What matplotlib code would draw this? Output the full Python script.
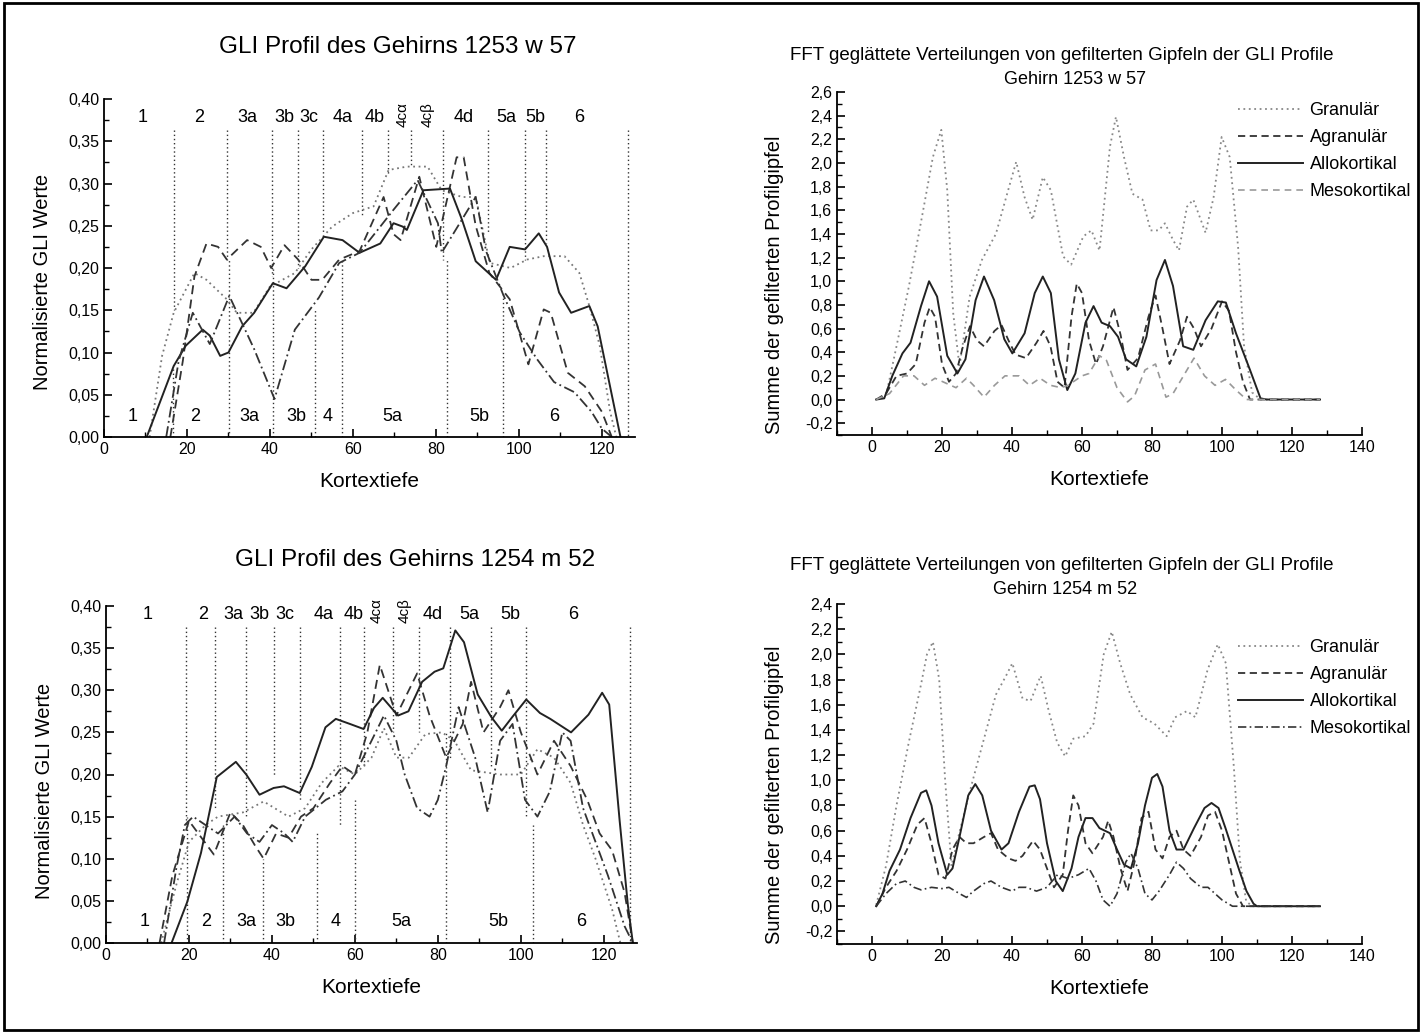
import numpy as np
import matplotlib.pyplot as plt
from matplotlib.ticker import MultipleLocator, FuncFormatter
from matplotlib.patches import Rectangle

plt.rcParams['font.family'] = ['Liberation Sans', 'DejaVu Sans']

# ---------------- data: GLI profile 1253 w 57 (top left) ----------------
tl_dot_x = [11, 14, 16.8, 21.8, 24.7, 29.6, 32, 36, 40, 46, 50, 55, 60, 65, 68.6, 73, 78, 81.4, 86.3, 89.6, 93, 98, 102, 106, 111, 114.6, 117, 119.5, 122, 123.5]
tl_dot_y = [0, 0.096, 0.147, 0.194, 0.186, 0.163, 0.147, 0.147, 0.178, 0.194, 0.222, 0.249, 0.265, 0.273, 0.316, 0.32, 0.32, 0.292, 0.284, 0.284, 0.206, 0.2, 0.21, 0.214, 0.214, 0.194, 0.155, 0.108, 0.03, 0]
tl_dash_x = [16, 19, 21.8, 24.7, 27.5, 29.6, 34.5, 37.8, 40.3, 43.5, 46.8, 50, 52.6, 56.7, 61.6, 67.4, 69.8, 71.5, 76, 80.1, 85, 86.7, 89.6, 92.9, 97.8, 102.3, 106, 107.7, 111.8, 115.9, 120, 122.4]
tl_dash_y = [0, 0.09, 0.19, 0.229, 0.225, 0.21, 0.233, 0.225, 0.2, 0.227, 0.21, 0.186, 0.186, 0.21, 0.22, 0.284, 0.24, 0.233, 0.308, 0.225, 0.331, 0.331, 0.25, 0.194, 0.163, 0.086, 0.151, 0.147, 0.076, 0.06, 0.03, 0]
tl_solid_x = [10.3, 16.8, 19.7, 23.8, 25.5, 28, 30, 33.3, 36.2, 40.7, 44, 48.5, 53, 57.5, 61.6, 66.6, 69.8, 72, 73, 77, 83.4, 86.3, 89.6, 94.5, 97.8, 101.5, 104.8, 106.8, 109.7, 112.6, 117, 119, 122.4, 124.5]
tl_solid_y = [0, 0.084, 0.108, 0.127, 0.12, 0.096, 0.1, 0.131, 0.147, 0.182, 0.176, 0.202, 0.237, 0.233, 0.218, 0.229, 0.253, 0.249, 0.245, 0.292, 0.294, 0.257, 0.208, 0.186, 0.225, 0.222, 0.241, 0.225, 0.171, 0.147, 0.155, 0.131, 0.05, 0]
tl_dd_x = [15, 18, 21.4, 25.5, 30.2, 36.2, 41.1, 46, 51.8, 56.7, 61.6, 66.6, 69.8, 75.6, 80.5, 81.4, 89.6, 92.1, 96.1, 100.2, 104.4, 108.5, 113.4, 117.5, 120, 122.4]
tl_dd_y = [0, 0.09, 0.147, 0.11, 0.167, 0.104, 0.045, 0.127, 0.165, 0.206, 0.218, 0.249, 0.269, 0.304, 0.253, 0.218, 0.284, 0.22, 0.17, 0.124, 0.092, 0.065, 0.053, 0.03, 0.01, 0]

tl_top_labels = ['1', '2', '3a', '3b', '3c', '4a', '4b', '4cα', '4cβ', '4d', '5a', '5b', '6']
tl_top_label_x = [9.2, 23, 34.5, 43.5, 49.3, 57.5, 65.3, 71.9, 78, 86.7, 97, 104, 114.6]
tl_top_bounds = [16.8, 29.6, 40.5, 46.7, 52.7, 62.3, 68.5, 74, 81.8, 92.5, 101.4, 106.5, 126.3]
tl_top_bound_end = [0.15, 0.21, 0.19, 0.2, 0.24, 0.26, 0.31, 0.32, 0.21, 0.24, 0.21, 0.23, 0.0]
tl_bot_labels = ['1', '2', '3a', '3b', '4', '5a', '5b', '6']
tl_bot_label_x = [7, 22, 35, 46.4, 53.8, 69.4, 90.4, 108.5]
tl_bot_bounds = [16.6, 30.2, 40.7, 50.8, 57.4, 82.6, 96.1]
tl_bot_bound_end = [0.08, 0.21, 0.2, 0.15, 0.21, 0.21, 0.17]

# ---------------- data: GLI profile 1254 m 52 (bottom left) ----------------
bl_dot_x = [13.3, 17, 20, 24, 27, 33, 38, 44, 48, 52, 56, 60, 64, 67, 70, 73, 77, 81, 84, 88, 95, 100, 104, 108, 112, 115, 118, 120, 122, 124]
bl_dot_y = [0, 0.07, 0.12, 0.14, 0.15, 0.155, 0.168, 0.15, 0.16, 0.19, 0.21, 0.2, 0.22, 0.255, 0.22, 0.22, 0.248, 0.25, 0.24, 0.205, 0.2, 0.2, 0.23, 0.22, 0.19, 0.14, 0.1, 0.07, 0.04, 0]
bl_dash_x = [12.9, 16, 20, 23, 26, 30, 33, 36, 38, 41, 44, 47, 50, 54, 57, 60, 63, 66, 70, 73, 75, 78, 82, 86, 88, 91, 95, 97, 100, 104, 108, 112, 116, 119, 122, 125, 127]
bl_dash_y = [0, 0.08, 0.145, 0.125, 0.105, 0.155, 0.14, 0.115, 0.1, 0.13, 0.125, 0.15, 0.16, 0.19, 0.21, 0.2, 0.25, 0.33, 0.27, 0.3, 0.32, 0.27, 0.22, 0.26, 0.31, 0.25, 0.28, 0.3, 0.25, 0.2, 0.24, 0.21, 0.17, 0.13, 0.11, 0.06, 0]
bl_solid_x = [15.8, 19.6, 22.9, 26.7, 31.3, 33.8, 37, 40.4, 42.9, 46.7, 49.6, 52.9, 55.4, 58.8, 62.1, 64.6, 66.7, 68.8, 70.4, 72.9, 76.2, 79.2, 81.3, 84.2, 86.3, 89.6, 92.9, 95.4, 97.9, 101.3, 104.6, 107.1, 112.1, 116.3, 119.6, 121.3, 123.8, 125.8, 127]
bl_solid_y = [0, 0.049, 0.107, 0.197, 0.215, 0.2, 0.176, 0.184, 0.186, 0.178, 0.209, 0.256, 0.266, 0.26, 0.254, 0.279, 0.291, 0.279, 0.27, 0.275, 0.31, 0.322, 0.326, 0.371, 0.357, 0.295, 0.268, 0.252, 0.268, 0.289, 0.273, 0.266, 0.25, 0.271, 0.297, 0.283, 0.146, 0.045, 0]
bl_dd_x = [14, 17, 19, 21, 24, 27, 31, 34, 37, 40, 43, 45, 48, 53, 57, 60, 64, 67, 70, 72, 75, 78, 80, 82, 85, 89, 92, 95, 98, 101, 104, 107, 110, 112, 115, 118, 121, 125, 127]
bl_dd_y = [0, 0.09, 0.14, 0.15, 0.14, 0.13, 0.15, 0.13, 0.12, 0.14, 0.13, 0.12, 0.15, 0.17, 0.18, 0.2, 0.24, 0.27, 0.24, 0.2, 0.16, 0.15, 0.17, 0.21, 0.28, 0.22, 0.155, 0.24, 0.26, 0.17, 0.15, 0.18, 0.25, 0.24, 0.16, 0.12, 0.08, 0.02, 0]

bl_top_labels = ['1', '2', '3a', '3b', '3c', '4a', '4b', '4cα', '4cβ', '4d', '5a', '5b', '6']
bl_top_label_x = [10, 23.3, 30.8, 37, 43, 52.5, 59.6, 65.3, 72, 78.8, 87.5, 97.5, 112.5]
bl_top_bounds = [19.2, 26.3, 33.8, 40.4, 46.7, 56.3, 62.1, 69.2, 75.4, 82.9, 92.9, 101.3, 126.3]
bl_top_bound_end = [0.14, 0.16, 0.15, 0.2, 0.17, 0.14, 0.21, 0.25, 0.25, 0.22, 0.21, 0.15, 0.0]
bl_bot_labels = ['1', '2', '3a', '3b', '4', '5a', '5b', '6']
bl_bot_label_x = [9.2, 24.2, 33.8, 43.3, 55.4, 71.3, 94.6, 114.6]
bl_bot_bounds = [19.6, 28.3, 37.9, 50.8, 60, 82, 102.9]
bl_bot_bound_end = [0.15, 0.14, 0.1, 0.13, 0.17, 0.25, 0.14]

# ---------------- data: FFT smoothed peaks 1253 w 57 (top right) ----------------
tr_gran_x = [1.2, 4, 7, 10.5, 14, 17.4, 19.8, 21.5, 23.2, 25, 27.9, 31.4, 35.4, 38.9, 41.2, 43.6, 45.9, 48.8, 51.1, 54.6, 56.9, 60.4, 62.7, 65, 68, 69.7, 72, 74.4, 77.3, 79.6, 81.9, 83.7, 86, 87.7, 90, 91.8, 95.3, 97.6, 99.9, 102.2, 104.6, 106.3, 108.6, 111, 128]
tr_gran_y = [0, 0.03, 0.45, 0.95, 1.5, 2.05, 2.28, 1.77, 0.73, 0.28, 0.87, 1.18, 1.4, 1.77, 2.01, 1.71, 1.52, 1.88, 1.77, 1.21, 1.14, 1.38, 1.43, 1.26, 2.14, 2.39, 2.05, 1.74, 1.69, 1.43, 1.43, 1.49, 1.35, 1.26, 1.63, 1.69, 1.41, 1.71, 2.22, 2.05, 1.29, 0.45, 0.06, 0, 0]
tr_agr_x = [1.2, 4, 7, 10, 12.5, 15, 16.5, 18, 20, 22, 24, 26, 28, 30, 32, 35, 37, 39, 41, 44, 47, 49, 51, 53, 55, 57, 58.5, 60, 62, 64, 66, 69, 71, 73, 76, 79, 81, 83, 85, 88, 90, 92, 94, 97, 100, 102, 104, 106, 108, 128]
tr_agr_y = [0, 0.05, 0.2, 0.22, 0.3, 0.65, 0.78, 0.7, 0.3, 0.15, 0.22, 0.45, 0.62, 0.5, 0.45, 0.58, 0.63, 0.5, 0.38, 0.35, 0.48, 0.58, 0.45, 0.15, 0.1, 0.7, 0.98, 0.9, 0.5, 0.3, 0.45, 0.78, 0.55, 0.25, 0.35, 0.7, 0.88, 0.6, 0.3, 0.5, 0.7, 0.6, 0.45, 0.6, 0.83, 0.75, 0.4, 0.15, 0.0, 0]
tr_allo_x = [1.2, 3.5, 5.8, 8.7, 11, 14, 16.3, 18.6, 21.5, 24.4, 26.7, 29.6, 32, 34.9, 37.8, 40.1, 43.6, 46.5, 48.8, 51.1, 53.4, 55.8, 58.1, 61, 63.3, 65.6, 68, 70.3, 72.6, 75.5, 78.4, 81.3, 83.7, 86, 88.9, 91.8, 95.3, 98.8, 101.1, 104, 108, 111, 112.7, 128]
tr_allo_y = [0, 0.01, 0.2, 0.39, 0.48, 0.79, 1.0, 0.87, 0.37, 0.22, 0.34, 0.84, 1.04, 0.84, 0.51, 0.39, 0.56, 0.9, 1.04, 0.9, 0.34, 0.08, 0.22, 0.65, 0.79, 0.65, 0.62, 0.53, 0.34, 0.28, 0.53, 1.01, 1.18, 0.96, 0.45, 0.42, 0.67, 0.83, 0.82, 0.56, 0.25, 0.01, 0, 0]
tr_meso_x = [1.2, 5, 9, 12, 15, 18, 21, 24, 27, 29, 32, 35, 38, 42, 45, 48, 51, 54, 56, 60, 62, 65, 67, 70, 73, 75, 78, 81, 84, 86, 89, 92, 95, 98, 101, 104, 107, 128]
tr_meso_y = [0, 0.05, 0.2, 0.2, 0.12, 0.18, 0.14, 0.1, 0.18, 0.12, 0.02, 0.12, 0.2, 0.2, 0.12, 0.18, 0.12, 0.1, 0.12, 0.2, 0.22, 0.37, 0.33, 0.1, -0.02, 0.03, 0.25, 0.3, 0.02, 0.05, 0.2, 0.35, 0.2, 0.12, 0.17, 0.08, 0.0, 0]

# ---------------- data: FFT smoothed peaks 1254 m 52 (bottom right) ----------------
br_gran_x = [1.2, 4, 7, 10.5, 14, 15.7, 17.4, 19.2, 20.9, 22.7, 25, 28.5, 32, 35.4, 38.3, 40.1, 43, 45.3, 48.2, 50.5, 52.9, 55.2, 57.5, 61, 63.3, 66.2, 68.5, 70.9, 73.8, 77.3, 80.7, 84.2, 86.6, 90, 92.4, 95.9, 98.8, 101.1, 103.4, 105.1, 106.9, 108.6, 128]
br_gran_y = [0.01, 0.32, 0.8, 1.3, 1.76, 2.0, 2.1, 1.8, 1.0, 0.32, 0.59, 0.97, 1.33, 1.68, 1.83, 1.93, 1.65, 1.63, 1.83, 1.55, 1.3, 1.19, 1.33, 1.35, 1.45, 2.0, 2.18, 1.93, 1.68, 1.5, 1.45, 1.35, 1.5, 1.55, 1.5, 1.88, 2.08, 1.93, 1.1, 0.37, 0.04, 0, 0]
br_agr_x = [1.2, 4, 7, 10, 13, 15, 17, 19, 21, 23, 25, 27, 29, 32, 34, 36, 39, 41, 43, 46, 48, 50, 52, 54.5, 56, 57.5, 59, 61, 63, 66, 67.5, 69, 71, 73, 75, 77, 79, 81, 83, 85, 87, 89, 91, 94, 96, 98, 100, 102, 104, 106, 128]
br_agr_y = [0, 0.15, 0.28, 0.45, 0.65, 0.7, 0.5, 0.25, 0.22, 0.45, 0.55, 0.5, 0.5, 0.55, 0.58, 0.45, 0.38, 0.36, 0.4, 0.52, 0.45, 0.3, 0.15, 0.25, 0.6, 0.88, 0.8, 0.5, 0.42, 0.55, 0.68, 0.55, 0.3, 0.12, 0.35, 0.7, 0.75, 0.45, 0.38, 0.55, 0.6, 0.45, 0.4, 0.55, 0.72, 0.75, 0.6, 0.35, 0.1, 0.0, 0]
br_allo_x = [1.2, 3, 5, 8, 11, 14, 15.5, 17, 19, 21.5, 23, 25, 27.5, 29.5, 31.5, 34, 37, 39, 42, 45, 46.5, 48, 50, 52.5, 54.5, 57, 59, 61, 63, 65, 68, 70, 72, 74, 76, 78, 80, 81.5, 83, 85, 87, 89, 92, 95, 97, 99, 101, 103, 105, 107, 109, 110, 128]
br_allo_y = [0, 0.1, 0.28, 0.45, 0.7, 0.9, 0.92, 0.8, 0.5, 0.25, 0.3, 0.55, 0.88, 0.97, 0.88, 0.6, 0.45, 0.5, 0.75, 0.95, 0.96, 0.85, 0.5, 0.2, 0.12, 0.3, 0.55, 0.7, 0.7, 0.62, 0.58, 0.45, 0.33, 0.3, 0.5, 0.8, 1.02, 1.05, 0.95, 0.6, 0.45, 0.45, 0.62, 0.78, 0.82, 0.78, 0.62, 0.45, 0.28, 0.12, 0.02, 0, 0]
br_meso_x = [1.2, 4, 7, 9.5, 12, 14, 17, 20, 22, 25, 27, 29, 32, 34, 37, 40, 42, 44, 47, 50, 53, 56, 59, 62, 64, 66, 68, 70, 72.5, 74, 76, 78, 80, 82, 85, 87, 89, 91, 94, 96, 98, 100, 103, 128]
br_meso_y = [0, 0.1, 0.18, 0.2, 0.15, 0.13, 0.15, 0.14, 0.15, 0.1, 0.07, 0.12, 0.18, 0.2, 0.15, 0.12, 0.15, 0.15, 0.12, 0.15, 0.25, 0.22, 0.25, 0.3, 0.2, 0.05, 0.0, 0.1, 0.35, 0.42, 0.3, 0.1, 0.05, 0.12, 0.25, 0.35, 0.3, 0.22, 0.15, 0.15, 0.1, 0.05, 0.0, 0]

legend_labels = ['Granulär', 'Agranulär', 'Allokortikal', 'Mesokortikal']

W, H = 1422, 1033
fig = plt.figure(figsize=(W / 100, H / 100), dpi=100)
fig.patches.append(Rectangle((0.003, 0.003), 0.994, 0.994, transform=fig.transFigure,
                             fill=False, edgecolor='black', linewidth=2))


def px_axes(x0, x1, ytop, ybot):
    return fig.add_axes([x0 / W, 1 - ybot / H, (x1 - x0) / W, (ybot - ytop) / H])


def comma(fmt):
    return FuncFormatter(lambda v, p: (fmt % v).replace('.', ','))


def style_axes(ax):
    for s in ['top', 'right']:
        ax.spines[s].set_visible(False)
    for s in ['left', 'bottom']:
        ax.spines[s].set_linewidth(1.3)
    ax.tick_params(which='both', direction='in', labelsize=11.5)
    ax.tick_params(which='major', length=6, width=1.2)
    ax.tick_params(which='minor', length=3.5, width=1)


def gli_panel(ax, series, top_lab, top_lab_x, top_b, top_b_end, bot_lab, bot_lab_x, bot_b, bot_b_end, lab_y, lab_y_bot, ylab_pos):
    style_axes(ax)
    for b, e in zip(top_b, top_b_end):
        ax.plot([b, b], [lab_y - 0.015, e], ls=(0, (1, 2)), color='#333333', lw=1)
    for b, e in zip(bot_b, bot_b_end):
        ax.plot([b, b], [0, e], ls=(0, (1, 2)), color='#333333', lw=1)
    (x1, y1), (x2, y2), (x3, y3), (x4, y4) = series
    ax.plot(x1, y1, ls=(0, (1, 2)), color='#777777', lw=1.3)
    ax.plot(x2, y2, ls=(0, (5, 3)), color='#333333', lw=1.3)
    ax.plot(x3, y3, ls='-', color='#222222', lw=1.4)
    ax.plot(x4, y4, ls=(0, (6, 2, 1, 2)), color='#333333', lw=1.3)
    for t, x in zip(top_lab, top_lab_x):
        if t.startswith('4c'):
            ax.text(x, lab_y + 0.004, t, rotation=90, ha='center', va='center', fontsize=11)
        else:
            ax.text(x, lab_y, t, ha='center', va='center', fontsize=13)
    for t, x in zip(bot_lab, bot_lab_x):
        ax.text(x, lab_y_bot, t, ha='center', va='center', fontsize=13)
    ax.set_xlim(0, 128)
    ax.set_ylim(0, 0.40)
    ax.xaxis.set_major_locator(MultipleLocator(20))
    ax.xaxis.set_minor_locator(MultipleLocator(10))
    ax.yaxis.set_major_locator(MultipleLocator(0.05))
    ax.yaxis.set_minor_locator(MultipleLocator(0.025))
    ax.yaxis.set_major_formatter(comma('%.2f'))
    ax.set_xlabel('Kortextiefe', fontsize=15, labelpad=11)
    ax.set_ylabel('Normalisierte GLI Werte', fontsize=14.5)
    ax.yaxis.set_label_coords(-0.098, ylab_pos)


def fft_panel(ax, series, ymax, meso_style, meso_color, ylab_pos):
    style_axes(ax)
    (x1, y1), (x2, y2), (x3, y3), (x4, y4) = series
    ax.plot(x1, y1, ls=(0, (1, 2)), color='#888888', lw=1.3, label=legend_labels[0])
    ax.plot(x2, y2, ls=(0, (4, 2.5)), color='#333333', lw=1.3, label=legend_labels[1])
    ax.plot(x3, y3, ls='-', color='#222222', lw=1.4, label=legend_labels[2])
    ax.plot(x4, y4, ls=meso_style, color=meso_color, lw=1.2, label=legend_labels[3])
    ax.set_xlim(-10, 140)
    ax.set_ylim(-0.3, ymax)
    ax.xaxis.set_major_locator(MultipleLocator(20))
    ax.xaxis.set_minor_locator(MultipleLocator(10))
    ax.yaxis.set_major_locator(MultipleLocator(0.2))
    ax.yaxis.set_minor_locator(MultipleLocator(0.1))
    ax.yaxis.set_major_formatter(comma('%.1f'))
    ax.set_xlabel('Kortextiefe', fontsize=15, labelpad=11)
    ax.set_ylabel('Summe der gefilterten Profilgipfel', fontsize=14.5)
    ax.yaxis.set_label_coords(-0.1, ylab_pos)


# top left
ax1 = px_axes(104, 635, 99, 437)
gli_panel(ax1, [(tl_dot_x, tl_dot_y), (tl_dash_x, tl_dash_y), (tl_solid_x, tl_solid_y), (tl_dd_x, tl_dd_y)],
          tl_top_labels, tl_top_label_x, tl_top_bounds, tl_top_bound_end,
          tl_bot_labels, tl_bot_label_x, tl_bot_bounds, tl_bot_bound_end, 0.378, 0.024, 0.46)
fig.text(398 / W, 1 - 47 / H, 'GLI Profil des Gehirns 1253 w 57', ha='center', va='center', fontsize=17.5)

# bottom left
ax3 = px_axes(106, 637, 606, 943)
gli_panel(ax3, [(bl_dot_x, bl_dot_y), (bl_dash_x, bl_dash_y), (bl_solid_x, bl_solid_y), (bl_dd_x, bl_dd_y)],
          bl_top_labels, bl_top_label_x, bl_top_bounds, bl_top_bound_end,
          bl_bot_labels, bl_bot_label_x, bl_bot_bounds, bl_bot_bound_end, 0.39, 0.025, 0.45)
fig.text(415 / W, 1 - 560 / H, 'GLI Profil des Gehirns 1254 m 52', ha='center', va='center', fontsize=17.5)

# top right
ax2 = px_axes(837, 1362, 92, 435)
fft_panel(ax2, [(tr_gran_x, tr_gran_y), (tr_agr_x, tr_agr_y), (tr_allo_x, tr_allo_y), (tr_meso_x, tr_meso_y)],
          2.6, (0, (4, 3)), '#999999', 0.437)
fig.text(1062 / W, 1 - 55 / H, 'FFT geglättete Verteilungen von gefilterten Gipfeln der GLI Profile',
         ha='center', va='center', fontsize=13.5)
fig.text(1075 / W, 1 - 80 / H, 'Gehirn 1253 w 57', ha='center', va='center', fontsize=13)
ax2.legend(loc='upper left', bbox_to_anchor=(1222 / W, 1 - 86 / H), bbox_transform=fig.transFigure,
           frameon=False, fontsize=13, handlelength=3.6, labelspacing=0.55, handletextpad=0.35)

# bottom right
ax4 = px_axes(837, 1362, 604, 944)
fft_panel(ax4, [(br_gran_x, br_gran_y), (br_agr_x, br_agr_y), (br_allo_x, br_allo_y), (br_meso_x, br_meso_y)],
          2.4, (0, (5, 2, 1, 2)), '#333333', 0.44)
fig.text(1062 / W, 1 - 565 / H, 'FFT geglättete Verteilungen von gefilterten Gipfeln der GLI Profile',
         ha='center', va='center', fontsize=13.5)
fig.text(1065 / W, 1 - 590 / H, 'Gehirn 1254 m 52', ha='center', va='center', fontsize=13)
ax4.legend(loc='upper left', bbox_to_anchor=(1222 / W, 1 - 623 / H), bbox_transform=fig.transFigure,
           frameon=False, fontsize=13, handlelength=3.6, labelspacing=0.55, handletextpad=0.35)

fig.savefig('out.png', dpi=100)
